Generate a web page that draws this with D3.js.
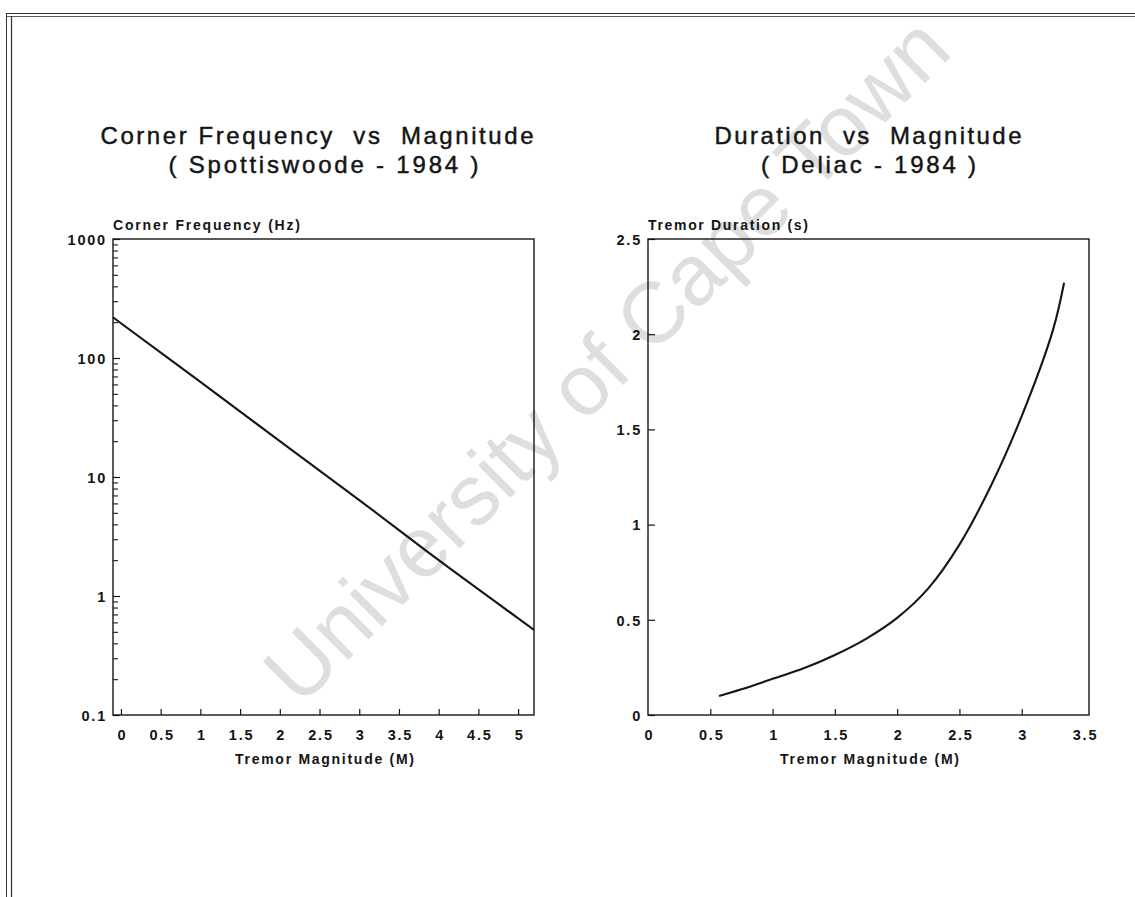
<!DOCTYPE html>
<html>
<head>
<meta charset="utf-8">
<script src="https://cdn.jsdelivr.net/npm/d3@7"></script>
<style>
  html, body { margin: 0; padding: 0; background: #fff; }
  svg { display: block; }
  text { font-family: "Liberation Sans", Arial, Helvetica, sans-serif; fill: #141414; }
  .tick text { font-weight: bold; font-size: 14.5px; letter-spacing: 1.8px; }
  .title { font-size: 24px; white-space: pre; stroke: #141414; stroke-width: 0.45px; }
  .atitle { font-size: 14px; font-weight: bold; white-space: pre; }
</style>
</head>
<body>
<svg id="chart" width="1135" height="897"></svg>
<script>
// ---------------- data ----------------
const freqMag = [-0.1, 0, 1, 2, 3, 4, 5, 5.2];
const freqHz  = [220, 196, 63, 20, 6.4, 2.0, 0.65, 0.52];

const durMag = [0.57, 0.75, 1.0, 1.25, 1.5, 1.75, 2.0, 2.25, 2.5, 2.75, 3.0, 3.25, 3.34];
const durSec = [0.10, 0.135, 0.19, 0.245, 0.315, 0.40, 0.51, 0.665, 0.895, 1.2, 1.57, 2.02, 2.27];

const leftXTicks  = [0, 0.5, 1, 1.5, 2, 2.5, 3, 3.5, 4, 4.5, 5];
const leftXLabels = ["0", "0.5", "1", "1.5", "2", "2.5", "3", "3.5", "4", "4.5", "5"];
const leftYTicks  = [0.1, 1, 10, 100, 1000];
const leftYLabels = ["0.1", "1", "10", "100", "1000"];
const leftYMinor  = [0.2,0.3,0.4,0.5,0.6,0.7,0.8,0.9, 2,3,4,5,6,7,8,9, 20,30,40,50,60,70,80,90, 200,300,400,500,600,700,800,900];

const rightXTicks  = [0, 0.5, 1, 1.5, 2, 2.5, 3, 3.5];
const rightXLabels = ["0", "0.5", "1", "1.5", "2", "2.5", "3", "3.5"];
const rightYTicks  = [0, 0.5, 1, 1.5, 2, 2.5];
const rightYLabels = ["0", "0.5", "1", "1.5", "2", "2.5"];

const titles = {
  left:  ["Corner Frequency  vs  Magnitude", "( Spottiswoode - 1984 )"],
  right: ["Duration  vs  Magnitude", "( Deliac - 1984 )"]
};
const yTitles = { left: "Corner Frequency (Hz)", right: "Tremor Duration (s)" };
const xTitle = "Tremor Magnitude (M)";
const watermark = "University of Cape Town";

// ---------------- drawing ----------------
const svg = d3.select("#chart");
const ink = "#161616";

// watermark
svg.append("text")
  .attr("transform", "translate(300,708) rotate(-45)")
  .attr("font-size", 86)
  .style("fill", "#dedede")
  .text(watermark);

// page border (scanned frame)
const border = svg.append("g").attr("stroke", "#333").attr("fill", "none");
border.append("line").attr("x1", 6).attr("x2", 1135).attr("y1", 13.5).attr("y2", 13.5).attr("stroke-width", 1.2);
border.append("line").attr("x1", 6).attr("x2", 1135).attr("y1", 16.5).attr("y2", 16.5).attr("stroke-width", 0.8);
border.append("line").attr("x1", 6.5).attr("x2", 6.5).attr("y1", 13).attr("y2", 897).attr("stroke-width", 1);
border.append("line").attr("x1", 11.5).attr("x2", 11.5).attr("y1", 16).attr("y2", 897).attr("stroke-width", 1.2);

function panel(cfg) {
  const g = svg.append("g");
  const x = cfg.x, y = cfg.y;
  const [x0, x1] = x.range(), [y0, y1] = y.range();

  // x axis (ticks pointing inward)
  const xa = g.append("g").attr("transform", `translate(0,${y0})`)
    .call(d3.axisBottom(x).tickValues(cfg.xTicks).tickSizeInner(-6).tickSizeOuter(0)
      .tickFormat((d, i) => cfg.xLabels[i]));
  xa.select(".domain").remove();
  xa.selectAll(".tick line").attr("stroke", ink).attr("stroke-width", 1.2);
  xa.selectAll(".tick text").attr("y", 25).attr("dy", null).attr("x", 1);
  if (cfg.xHideTick) xa.selectAll(".tick line").filter(d => cfg.xHideTick.includes(d)).remove();

  // y axis
  const ya = g.append("g").attr("transform", `translate(${x0},0)`)
    .call(d3.axisLeft(y).tickValues(cfg.yTicks).tickSizeInner(-7).tickSizeOuter(0)
      .tickPadding(8).tickFormat((d, i) => cfg.yLabels[i]));
  ya.select(".domain").remove();
  ya.selectAll(".tick line").attr("stroke", ink).attr("stroke-width", 1.2);
  ya.selectAll(".tick text").attr("dy", "0.36em").attr("x", -6);

  if (cfg.yMinor) {
    const ym = g.append("g").attr("transform", `translate(${x0},0)`)
      .call(d3.axisLeft(y).tickValues(cfg.yMinor).tickSizeInner(-5).tickSizeOuter(0).tickFormat(""));
    ym.select(".domain").remove();
    ym.selectAll(".tick line").attr("stroke", ink).attr("stroke-width", 1.1);
  }

  // frame
  g.append("rect").attr("x", x0).attr("y", y1).attr("width", x1 - x0).attr("height", y0 - y1)
    .attr("fill", "none").attr("stroke", ink).attr("stroke-width", 1.4);

  // data line
  g.append("path").datum(cfg.data)
    .attr("fill", "none").attr("stroke", ink).attr("stroke-width", 2.1)
    .attr("d", d3.line().x(d => x(d[0])).y(d => y(d[1])).curve(d3.curveCatmullRom.alpha(0.5)));

  // titles
  g.append("text").attr("class", "title").attr("x", cfg.titleCx).attr("y", 144).attr("text-anchor", "middle")
    .attr("textLength", cfg.t1w).attr("lengthAdjust", "spacing").text(cfg.titles[0]);
  g.append("text").attr("class", "title").attr("x", (x0 + x1) / 2).attr("y", 173).attr("text-anchor", "middle")
    .attr("textLength", cfg.t2w).attr("lengthAdjust", "spacing").text(cfg.titles[1]);

  // axis titles
  g.append("text").attr("class", "atitle").attr("x", x0).attr("y", 230)
    .attr("textLength", cfg.ytw).attr("lengthAdjust", "spacing").text(cfg.yTitle);
  g.append("text").attr("class", "atitle").attr("x", (x0 + x1) / 2 + 1).attr("y", 764).attr("text-anchor", "middle")
    .attr("textLength", 179).attr("lengthAdjust", "spacing").text(xTitle);
}

panel({
  x: d3.scaleLinear().domain([-0.1, 5.2]).range([113, 534]),
  y: d3.scaleLog().domain([0.1, 1000]).range([715, 239]),
  xTicks: leftXTicks, xLabels: leftXLabels,
  yTicks: leftYTicks, yLabels: leftYLabels, yMinor: leftYMinor,
  data: freqMag.map((m, i) => [m, freqHz[i]]),
  titles: titles.left, titleCx: 317, t1w: 433, t2w: 310,
  yTitle: yTitles.left, ytw: 187
});

panel({
  x: d3.scaleLinear().domain([0, 3.54]).range([648, 1089]),
  y: d3.scaleLinear().domain([0, 2.5]).range([715, 239]),
  xTicks: rightXTicks, xLabels: rightXLabels, xHideTick: [0, 3.5],
  yTicks: rightYTicks, yLabels: rightYLabels,
  data: durMag.map((m, i) => [m, durSec[i]]),
  titles: titles.right, titleCx: 868, t1w: 307, t2w: 215,
  yTitle: yTitles.right, ytw: 160
});
</script>
</body>
</html>
